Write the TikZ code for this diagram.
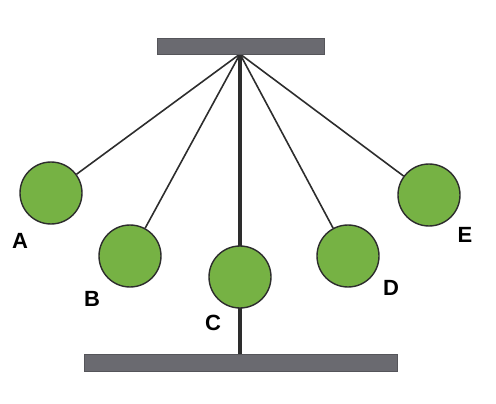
\documentclass[tikz,border=0pt]{standalone}
\usepackage{fontspec}
\setmainfont{Liberation Sans}
\definecolor{ballgreen}{RGB}{118,178,68}
\definecolor{bargray}{RGB}{106,106,112}
\definecolor{rodgray}{RGB}{45,45,45}
\begin{document}
\begin{tikzpicture}[x=1pt,y=-1pt,
  ball/.style={circle,draw=rodgray,line width=1.4pt,fill=ballgreen,minimum size=62pt,inner sep=0pt},
  bar/.style={fill=bargray,draw=bargray!80!black,line width=0.5pt},
  string/.style={draw=rodgray,line width=1.6pt},
  lbl/.style={font=\fontsize{22}{22}\selectfont\bfseries,inner sep=0pt}]
\useasboundingbox (0,0) rectangle (496,404);
\coordinate (pivot) at (240,54);
\coordinate (bottom) at (240,354);
\draw[draw=rodgray,line width=4.5pt] (pivot) -- (bottom);
\node[ball] (A) at (51,193) {};
\node[ball] (B) at (130,256) {};
\node[ball] (C) at (240,277) {};
\node[ball] (D) at (348,256) {};
\node[ball] (E) at (429,195) {};
\draw[string] (pivot) -- (A);
\draw[string] (pivot) -- (B);
\draw[string] (pivot) -- (D);
\draw[string] (pivot) -- (E);
\filldraw[bar] (157,38) rectangle (324,54);
\filldraw[bar] (84,354) rectangle (397,371);
\node[lbl] (la) at (20,241) {A};
\node[lbl] (lb) at (92,299) {B};
\node[lbl] (lc) at (213,323) {C};
\node[lbl] (ld) at (391,288) {D};
\node[lbl] (le) at (465,235) {E};
\end{tikzpicture}
\end{document}
